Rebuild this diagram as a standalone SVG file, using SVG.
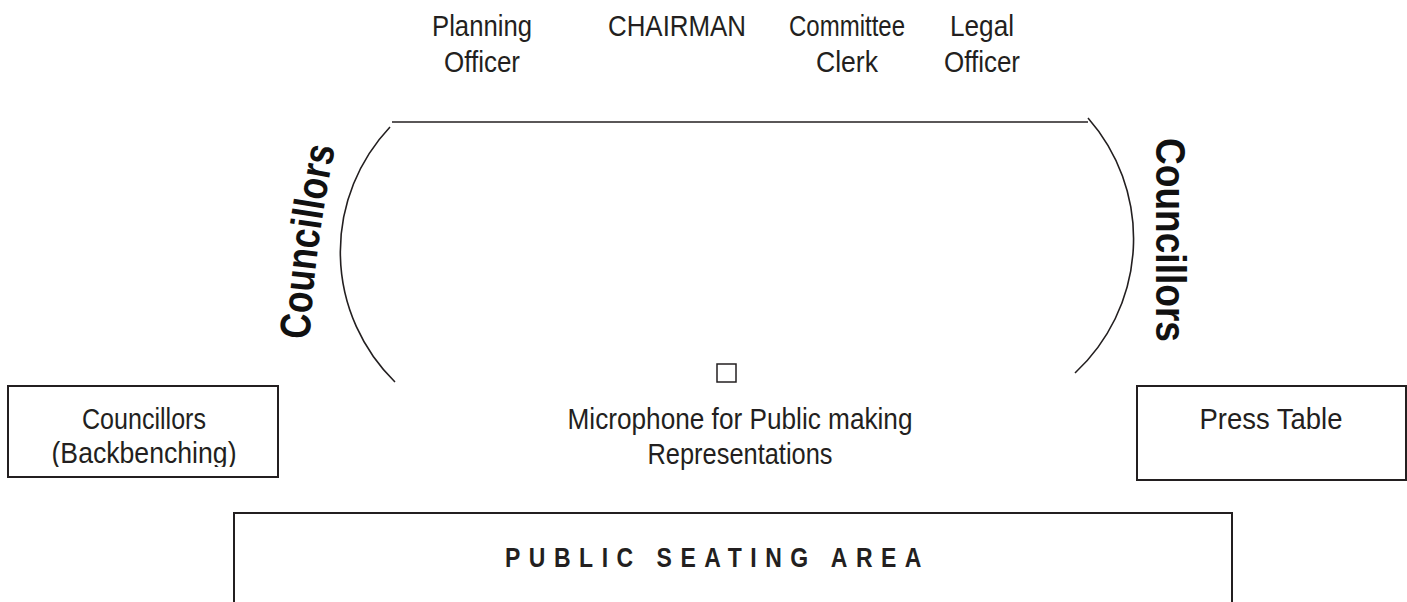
<svg xmlns="http://www.w3.org/2000/svg" width="1407" height="602" viewBox="0 0 1407 602">
<style>
.t{font-family:"Liberation Sans",Arial,sans-serif;font-size:29px;fill:#231f20;text-anchor:middle}
.c{font-family:"Liberation Sans",Arial,sans-serif;font-size:43px;font-weight:bold;fill:#111}
.ln{fill:none;stroke:#231f20;stroke-width:1.6}
.bx{fill:none;stroke:#231f20;stroke-width:2}
.p{font-family:"Liberation Sans",Arial,sans-serif;font-size:27px;font-weight:bold;fill:#231f20;letter-spacing:10px}
</style>
<defs>
<path id="lp" d="M309,352 Q314,243 338,135"/>
<clipPath id="bclip"><rect x="0" y="380" width="300" height="87"/></clipPath>
</defs>
<rect width="1407" height="602" fill="#fff"/>
<g id="connectors">
<path class="ln" d="M392,122 H1088"/>
<path class="ln" d="M390,127 A182,182 0 0 0 395,382"/>
<path class="ln" d="M1088,118 A183,183 0 0 1 1075,373"/>
</g>
<g id="planning-officer"><text class="t" x="482" y="36" textLength="100" lengthAdjust="spacingAndGlyphs">Planning</text><text class="t" x="482" y="72" textLength="76" lengthAdjust="spacingAndGlyphs">Officer</text></g>
<g id="chairman"><text class="t" x="677" y="36" textLength="138" lengthAdjust="spacingAndGlyphs">CHAIRMAN</text></g>
<g id="committee-clerk"><text class="t" x="847" y="36" textLength="116" lengthAdjust="spacingAndGlyphs">Committee</text><text class="t" x="847" y="72" textLength="62" lengthAdjust="spacingAndGlyphs">Clerk</text></g>
<g id="legal-officer"><text class="t" x="982" y="36" textLength="64" lengthAdjust="spacingAndGlyphs">Legal</text><text class="t" x="982" y="72" textLength="76" lengthAdjust="spacingAndGlyphs">Officer</text></g>
<g id="councillors-left"><text class="c" text-anchor="middle"><textPath href="#lp" startOffset="50%" textLength="194" lengthAdjust="spacingAndGlyphs">Councillors</textPath></text></g>
<g id="councillors-right"><text class="c" transform="translate(1156,240) rotate(90)" text-anchor="middle" textLength="204" lengthAdjust="spacingAndGlyphs">Councillors</text></g>
<g id="microphone"><rect class="ln" x="717" y="364" width="19" height="18" style="stroke-width:1.5"/><text class="t" x="740" y="429" textLength="345" lengthAdjust="spacingAndGlyphs">Microphone for Public making</text><text class="t" x="740" y="464" textLength="185" lengthAdjust="spacingAndGlyphs">Representations</text></g>
<g id="backbench"><rect class="bx" x="8" y="386" width="270" height="91"/><text class="t" x="144" y="429" textLength="124" lengthAdjust="spacingAndGlyphs">Councillors</text><text class="t" x="144" y="463" textLength="185" lengthAdjust="spacingAndGlyphs" clip-path="url(#bclip)">(Backbenching)</text></g>
<g id="press-table"><rect class="bx" x="1137" y="386" width="269" height="94"/><text class="t" x="1271" y="429" textLength="143" lengthAdjust="spacingAndGlyphs">Press Table</text></g>
<g id="public-seating"><path class="bx" d="M234,602 V513 H1232 V602"/><text class="p" x="505" y="567" textLength="425" lengthAdjust="spacingAndGlyphs" style="text-anchor:start">PUBLIC  SEATING AREA</text></g>
</svg>
